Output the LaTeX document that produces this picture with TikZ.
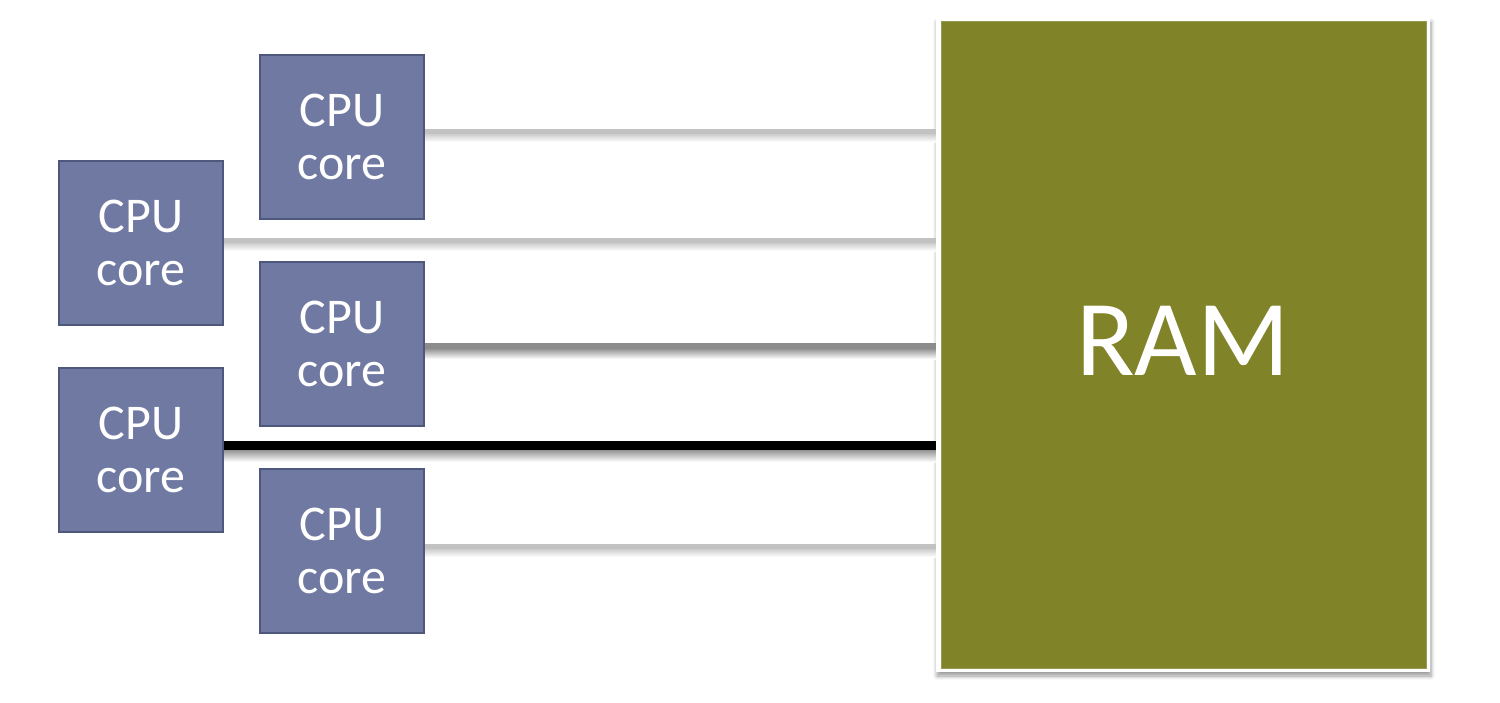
\documentclass[tikz,border=0pt]{standalone}
\usepackage{fontspec}
\setmainfont{Carlito}
\usetikzlibrary{shadows.blur}
\definecolor{cpufill}{RGB}{112,121,161}
\definecolor{cpuedge}{RGB}{78,87,124}
\definecolor{ramgreen}{RGB}{128,131,39}
\begin{document}
\begin{tikzpicture}[x=0.5pt,y=-0.5pt,
  cpubox/.style={draw=cpuedge, line width=1pt, fill=cpufill, minimum width=82pt,
    minimum height=82pt, inner sep=0pt, text=white,
    font=\fontsize{25}{26.5}\selectfont, align=center},
  lightbus/.style={line width=2.5pt, draw=black!24},
  midbus/.style={line width=3pt, draw=black!45},
  darkbus/.style={line width=4.5pt, draw=black}]
\useasboundingbox (0,0) rectangle (1500,702);
% RAM
\node[fill=white, minimum width=247pt, minimum height=327pt, inner sep=0pt,
  blur shadow={shadow xshift=0.5pt, shadow yshift=-2pt, shadow blur radius=2pt, shadow blur steps=6, shadow opacity=40}] (ram) at (1183,345) {};
\node[fill=ramgreen, draw=ramgreen!80!white, line width=0.5pt, minimum width=242.5pt, minimum height=323.5pt, inner sep=0pt] (ramfill) at (1183.5,344.5) {};
\node[text=white, font=\fontsize{54}{58}\selectfont, inner sep=0pt] (ramlabel) at (1183,341) {RAM};
% CPU cores
\node[cpubox] (c1) at (342,137) {CPU\\core};
\node[cpubox] (c2) at (141,243) {CPU\\core};
\node[cpubox] (c3) at (342,344) {CPU\\core};
\node[cpubox] (c4) at (141,450) {CPU\\core};
\node[cpubox] (c5) at (342,551) {CPU\\core};
% bus shadows
\shade[top color=black!22, bottom color=white] (c1.east |- 0,133) rectangle (ram.west |- 0,142);
\shade[top color=black!22, bottom color=white] (c2.east |- 0,242) rectangle (ram.west |- 0,251);
\shade[top color=black!45, bottom color=white] (c3.east |- 0,348) rectangle (ram.west |- 0,359);
\shade[top color=black!45, bottom color=white] (c4.east |- 0,449) rectangle (ram.west |- 0,462);
\shade[top color=black!22, bottom color=white] (c5.east |- 0,548) rectangle (ram.west |- 0,557);
% buses
\draw[lightbus] (c1.east |- 0,131) -- (ram.west |- 0,131);
\draw[lightbus] (c2.east |- 0,240) -- (ram.west |- 0,240);
\draw[midbus] (c3.east |- 0,346) -- (ram.west |- 0,346);
\draw[darkbus] (c4.east |- 0,445) -- (ram.west |- 0,445);
\draw[lightbus] (c5.east |- 0,546) -- (ram.west |- 0,546);
\end{tikzpicture}
\end{document}
